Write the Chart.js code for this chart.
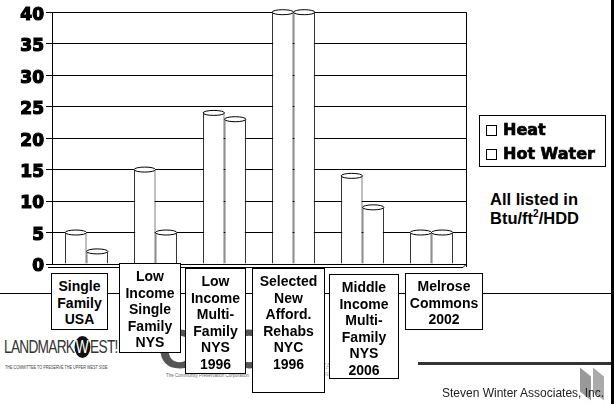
<!DOCTYPE html>
<html lang="en">
<head>
<meta charset="UTF-8">
<title>Heat and Hot Water Use</title>
<script src="https://cdn.jsdelivr.net/npm/chart.js"></script>
<style>
  body { margin: 0; width: 614px; height: 404px; position: relative; overflow: hidden; background: #fff; font-family: "Liberation Sans", Arial, sans-serif; }
  #chart { position: absolute; left: 0; top: 0; z-index: 2; }
  .rule { position: absolute; background: #000; }
  .cat { position: absolute; z-index: 3; border: 1px solid #000; background: #fff; box-sizing: border-box;
         font-weight: bold; font-size: 14px; line-height: 16.5px; text-align: center; padding-top: 4px; }
  #legend { position: absolute; z-index: 3; left: 479px; top: 115px; width: 127px; height: 52px; box-sizing: border-box;
            border: 1px solid #000; font-family: "DejaVu Sans", sans-serif; font-weight: bold; font-size: 16px;
            -webkit-text-stroke: 0.7px #000; padding: 2px 0 0 6px; }
  #legend div { height: 24px; line-height: 24px; white-space: nowrap; }
  #legend span.sw { display: inline-block; width: 11px; height: 11px; border: 1px solid #000; box-sizing: border-box; margin-right: 6px; vertical-align: -1px; -webkit-text-stroke: 0; }
  #unit { position: absolute; left: 490px; top: 190px; font-weight: bold; font-size: 16.5px; line-height: 19px; }
  #unit sup { font-size: 10px; vertical-align: 7px; line-height: 0; }
  .logo { position: absolute; z-index: 1; color: #555; white-space: nowrap; }
</style>
</head>
<body>
<canvas id="chart" width="614" height="404"></canvas>
<div class="rule" style="left:0;top:293px;width:611px;height:1px;"></div>
<div class="rule" style="left:611px;top:0;width:3px;height:404px;"></div>
<div class="rule" style="left:418px;top:362px;width:193px;height:3px;background:#333;"></div>

<div id="legend"></div>
<div id="unit">All listed in<br>Btu/ft<sup>2</sup>/HDD</div>

<div class="logo" style="left:4px;top:336px;font-size:19px;letter-spacing:-1px;color:#333;transform:scaleX(0.72);transform-origin:0 0;">LANDMARK<span style="display:inline-block;background:#111;color:#fff;border-radius:50%;width:22px;height:22px;line-height:22px;text-align:center;letter-spacing:0;">W</span>EST!</div>
<div class="logo" style="left:5px;top:364px;font-size:5px;color:#444;transform:scaleX(0.75);transform-origin:0 0;">THE COMMITTEE TO PRESERVE THE UPPER WEST SIDE</div>
<div class="logo" style="left:158px;top:316px;font-size:56px;font-weight:900;color:#555;letter-spacing:-4px;">CPC<span style="color:#bbb;">x</span></div>
<div class="logo" style="left:166px;top:373px;font-size:4.5px;color:#666;">The Community Preservation Corporation</div>
<div class="logo" style="left:290px;top:358px;width:9px;height:18px;background:#bbb;"></div>
<div class="logo" style="left:360px;top:350px;font-size:8px;font-style:italic;color:#999;">for</div>
<div class="logo" style="left:304px;top:361px;font-family:'Liberation Serif',serif;font-size:9px;color:#999;">SUSTAINABLE CITIES</div>
<div class="logo" style="left:304px;top:372px;font-size:4.5px;color:#aaa;">CITY UNIVERSITY OF NEW YORK</div>
<div class="logo" style="left:580px;top:372px;width:11px;height:24px;background:#999;transform:skewY(40deg);"></div>
<div class="logo" style="left:593px;top:372px;width:11px;height:24px;background:#aaa;transform:skewY(40deg);"></div>
<div class="logo" style="left:442px;top:386px;font-size:12px;color:#222;z-index:2;">Steven Winter Associates, Inc.</div>

<script>
// data
const categories = [
  ['Single', 'Family', 'USA'],
  ['Low', 'Income', 'Single', 'Family', 'NYS'],
  ['Low', 'Income', 'Multi-', 'Family', 'NYS', '1996'],
  ['Selected', 'New', 'Afford.', 'Rehabs', 'NYC', '1996'],
  ['Middle', 'Income', 'Multi-', 'Family', 'NYS', '2006'],
  ['Melrose', 'Commons', '2002']
];
const seriesNames = ['Heat', 'Hot Water'];
const heat = [5, 15, 24, 40, 14, 5];
const hotWater = [2, 5, 23, 40, 9, 5];
const yMin = 0, yMax = 40, yStep = 5;

// where the text boxes sit on the slide: left, top, width, height
const boxLayout = [
  [51, 273, 57, 57],
  [119, 263, 62, 90],
  [185, 268, 61, 106],
  [252, 268, 73, 125],
  [329, 274, 70, 105],
  [405, 273, 78, 57]
];

categories.forEach((lines, i) => {
  const b = boxLayout[i];
  const d = document.createElement('div');
  d.className = 'cat';
  d.style.left = b[0] + 'px'; d.style.top = b[1] + 'px';
  d.style.width = b[2] + 'px'; d.style.height = b[3] + 'px';
  d.innerHTML = lines.join('<br>');
  document.body.appendChild(d);
});

const legend = document.getElementById('legend');
seriesNames.forEach(n => {
  legend.innerHTML += '<div><span class="sw"></span>' + n + '</div>';
});

// cylinder tops on each bar
const cylinderTops = {
  id: 'cylinderTops',
  afterDatasetsDraw(chart) {
    const ctx = chart.ctx;
    ctx.save();
    chart.data.datasets.forEach((ds, i) => {
      chart.getDatasetMeta(i).data.forEach(bar => {
        const p = bar.getProps(['x', 'y', 'width'], true);
        ctx.beginPath();
        ctx.ellipse(p.x, p.y, p.width / 2, 2.5, 0, 0, Math.PI * 2);
        ctx.fillStyle = '#fff';
        ctx.fill();
        ctx.lineWidth = 1;
        ctx.strokeStyle = '#000';
        ctx.stroke();
      });
    });
    ctx.restore();
  }
};

// right wall and floor edge of the plot box
const frame = {
  id: 'frame',
  beforeDatasetsDraw(chart) {
    const { ctx, chartArea: a } = chart;
    ctx.save();
    ctx.strokeStyle = '#000';
    ctx.lineWidth = 1;
    ctx.beginPath();
    ctx.moveTo(a.right + 0.5, a.top);
    ctx.lineTo(a.right + 0.5, a.bottom + 3);
    ctx.moveTo(a.left - 4, a.bottom + 3.5);
    ctx.lineTo(a.right - 3, a.bottom + 3.5);
    ctx.lineTo(a.right + 0.5, a.bottom);
    ctx.stroke();
    ctx.restore();
  }
};

new Chart(document.getElementById('chart'), {
  type: 'bar',
  data: {
    labels: categories.map(c => c.join(' ')),
    datasets: [
      { label: seriesNames[0], data: heat, backgroundColor: '#fff', borderColor: '#000', borderWidth: 1 },
      { label: seriesNames[1], data: hotWater, backgroundColor: '#fff', borderColor: '#000', borderWidth: 1 }
    ]
  },
  options: {
    responsive: false,
    animation: false,
    layout: { padding: { left: 0, top: 10, right: 148, bottom: 140 } },
    categoryPercentage: 0.62,
    barPercentage: 1,
    plugins: { legend: { display: false }, tooltip: { enabled: false } },
    scales: {
      x: { display: false },
      y: {
        min: yMin, max: yMax,
        afterFit(scale) { scale.width = 52; },
        ticks: {
          stepSize: yStep,
          color: '#000',
          padding: 2,
          labelOffset: 3,
          textStrokeColor: '#000',
          textStrokeWidth: 1.2,
          font: { family: 'DejaVu Sans', weight: 'bold', size: 17 }
        },
        grid: { color: '#000', lineWidth: 1, tickLength: 6, tickColor: '#000' },
        border: { display: true, color: '#000', width: 1 }
      }
    }
  },
  plugins: [frame, cylinderTops]
});
</script>
</body>
</html>
